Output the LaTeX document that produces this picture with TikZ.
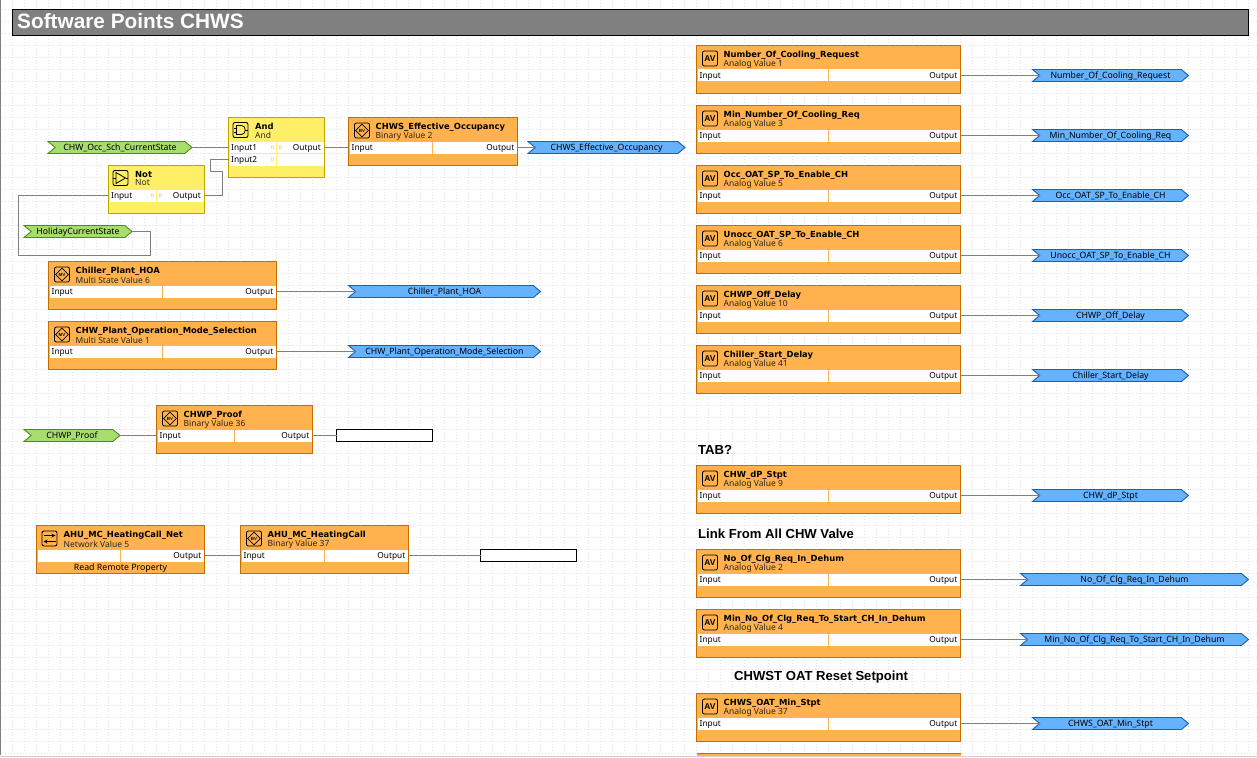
\documentclass[tikz,border=0pt]{standalone}
\usepackage{xcolor}
\usepackage{fontspec}
\setmainfont{Liberation Sans}
\newfontfamily\blockfont{Noto Sans}
\newfontfamily\blockbold{DejaVu Sans}
\usetikzlibrary{shapes.symbols,shapes.geometric}

\definecolor{gridgray}{HTML}{E0E0E0}
\definecolor{wiregray}{HTML}{808080}
\definecolor{valfill}{HTML}{FFB24D}
\definecolor{valline}{HTML}{C46E00}
\definecolor{logfill}{HTML}{FFEF66}
\definecolor{logline}{HTML}{BFA800}
\definecolor{outfill}{HTML}{66B2FF}
\definecolor{outline}{HTML}{1F5FA8}
\definecolor{infill}{HTML}{A8DC6E}
\definecolor{inline}{HTML}{4F8A1E}
\definecolor{zeromark}{HTML}{E6BE30}

\tikzset{
    valbox/.style={draw=valline, fill=valfill, line width=0.9pt, minimum height=48pt, anchor=north west, inner sep=0pt, outer sep=0pt},
    logbox/.style={valbox, draw=logline, fill=logfill},
    rowtext/.style={font=\blockfont\fontsize{8.3}{9}\selectfont, inner sep=0pt, text=black, text height=6pt, text depth=0pt},
    titletext/.style={font=\blockbold\fontsize{8.4}{9}\selectfont\bfseries, inner sep=0pt, anchor=west},
    subtext/.style={font=\blockfont\fontsize{8.5}{9}\selectfont, inner sep=0pt, anchor=west, text=black!85},
    tagout/.style={shape=signal, signal to=east, signal from=west, signal pointer angle=80, draw=outline, fill=outfill, line width=0.9pt, minimum height=12pt, inner sep=0pt, outer sep=0pt, text height=6pt, text depth=0pt, font=\blockfont\fontsize{8.7}{9}\selectfont},
    tagin/.style={tagout, draw=inline, fill=infill},
    sinkbox/.style={draw=black, fill=white, line width=0.8pt, minimum height=12pt, inner sep=0pt, outer sep=0pt},
    wire/.style={draw=wiregray, line width=0.8pt},
    notetext/.style={font=\bfseries\fontsize{13.1}{15}\selectfont, inner sep=0pt, anchor=west},
    iconbox/.style={draw=black, line width=0.9pt, rounded corners=2pt, minimum size=15pt, inner sep=0pt},
    avmark/.style={font=\fontsize{8.5}{9}\selectfont\bfseries, inner sep=0pt},
    bvmark/.style={shape=diamond, draw=black, line width=0.7pt, minimum size=13pt, inner sep=0pt, font=\fontsize{4.5}{5}\selectfont\bfseries},
    zerotext/.style={font=\fontsize{5.5}{6}\selectfont, inner sep=0pt, text=zeromark},
}

% name, x, y, width, divider, title, subtitle, icon style, icon text
\newcommand{\valblock}[9]{
    \node[valbox, minimum width=#4pt] (#1) at (#2,#3) {};
    \fill[white] (#2+1,#3+24) rectangle (#2+#4-1,#3+36);
    \draw[valfill] (#2+#5,#3+24) -- (#2+#5,#3+36);
    \node[titletext] at (#2+27,#3+9.5) {#6};
    \node[subtext] at (#2+27,#3+18.5) {#7};
    \node[iconbox] at (#2+13.5,#3+13) {};
    \node[#8] at (#2+13.5,#3+13) {#9};
    \coordinate (#1-in) at (#2,#3+30);
    \coordinate (#1-out) at (#2+#4,#3+30);
    \node[rowtext, anchor=west] at (#2+3,#3+30) {Input};
    \node[rowtext, anchor=east] at (#2+#4-3,#3+30) {Output};
}

\begin{document}
\begin{tikzpicture}[x=1pt,y=-1pt]
    \useasboundingbox (0,0) rectangle (1257,757);

    % sheet
    \fill[white] (0,0) rectangle (1257,757);
    \foreach \gx in {12,24,...,1256} {
        \draw[gridgray, line width=0.8pt, dash pattern=on 1.2pt off 1.8pt] (\gx,0) -- (\gx,753);
    }
    \foreach \gy in {9,21,...,753} {
        \draw[gridgray, line width=0.8pt, dash pattern=on 1.2pt off 1.8pt] (2,\gy) -- (1257,\gy);
    }
    \fill[wiregray] (0,0) rectangle (1.3,755);
    \fill[black!18] (0,755.5) rectangle (1257,756.8);

    % title
    \node[draw=black, fill=wiregray, line width=0.9pt, anchor=north west, minimum width=1236pt, minimum height=26pt, inner sep=0pt, outer sep=0pt] (title) at (12.5,9.5) {};
    \node[anchor=west, inner sep=0pt, text=white, font=\bfseries\fontsize{20.8}{22}\selectfont] (titletxt) at (17,21.5) {Software Points CHWS};

    % left column
    \valblock{effocc}{348.5}{117.5}{169}{84}{CHWS\_Effective\_Occupancy}{Binary Value 2}{bvmark}{BV}
    \valblock{hoa}{48.5}{261.5}{228}{114}{Chiller\_Plant\_HOA}{Multi State Value 6}{bvmark}{MV}
    \valblock{opmode}{48.5}{321.5}{228}{114}{CHW\_Plant\_Operation\_Mode\_Selection}{Multi State Value 1}{bvmark}{MV}
    \valblock{proof}{156.5}{405.5}{156}{78}{CHWP\_Proof}{Binary Value 36}{bvmark}{BV}
    \valblock{heat}{240.5}{525.5}{168}{84}{AHU\_MC\_HeatingCall}{Binary Value 37}{bvmark}{BV}

    % right column
    \valblock{numreq}{696.5}{45.5}{264}{132}{Number\_Of\_Cooling\_Request}{Analog Value 1}{avmark}{AV}
    \valblock{minreq}{696.5}{105.5}{264}{132}{Min\_Number\_Of\_Cooling\_Req}{Analog Value 3}{avmark}{AV}
    \valblock{occoat}{696.5}{165.5}{264}{132}{Occ\_OAT\_SP\_To\_Enable\_CH}{Analog Value 5}{avmark}{AV}
    \valblock{unoccoat}{696.5}{225.5}{264}{132}{Unocc\_OAT\_SP\_To\_Enable\_CH}{Analog Value 6}{avmark}{AV}
    \valblock{offdelay}{696.5}{285.5}{264}{132}{CHWP\_Off\_Delay}{Analog Value 10}{avmark}{AV}
    \valblock{startdelay}{696.5}{345.5}{264}{132}{Chiller\_Start\_Delay}{Analog Value 41}{avmark}{AV}
    \valblock{dpstpt}{696.5}{465.5}{264}{132}{CHW\_dP\_Stpt}{Analog Value 9}{avmark}{AV}
    \valblock{dehum}{696.5}{549.5}{264}{132}{No\_Of\_Clg\_Req\_In\_Dehum}{Analog Value 2}{avmark}{AV}
    \valblock{mindehum}{696.5}{609.5}{264}{132}{Min\_No\_Of\_Clg\_Req\_To\_Start\_CH\_In\_Dehum}{Analog Value 4}{avmark}{AV}
    \valblock{oatmin}{696.5}{693.5}{264}{132}{CHWS\_OAT\_Min\_Stpt}{Analog Value 37}{avmark}{AV}

    % network value, no input and a footer
    \node[valbox, minimum width=168pt] (net) at (36.5,525.5) {};
    \fill[white] (37.5,549.5) rectangle (203.5,561.5);
    \draw[valfill] (120.5,549.5) -- (120.5,561.5);
    \node[titletext] at (63.5,535) {AHU\_MC\_HeatingCall\_Net};
    \node[subtext] at (63.5,544) {Network Value 5};
    \node[iconbox] at (49.5,538.5) {};
    \draw[black, line width=0.8pt, -stealth] (43.5,535.5) -- (55.5,535.5);
    \draw[black, line width=0.8pt, -stealth] (55.5,541.5) -- (43.5,541.5);
    \node[rowtext, anchor=east] at (201.5,555.5) {Output};
    \node[rowtext, font=\blockfont\fontsize{8.8}{9}\selectfont] at (120.5,567.5) {Read Remote Property};
    \coordinate (net-out) at (204.5,555.5);

    % logic blocks
    \node[logbox, minimum width=96pt, minimum height=60pt] (andgate) at (228.5,117.5) {};
    \fill[white] (229.5,141.5) rectangle (323.5,165.5);
    \draw[logfill] (276.5,141.5) -- (276.5,165.5);
    \draw[logfill] (229.5,153.5) -- (323.5,153.5);
    \node[titletext] at (255,126) {And};
    \node[subtext] at (255,135) {And};
    \node[iconbox] at (240.5,130) {};
    \draw[black, line width=0.8pt] (236.5,125.5) -- (241.5,125.5) .. controls (246.5,125.5) and (246.5,134.5) .. (241.5,134.5) -- (236.5,134.5) -- cycle;
    \draw[black, line width=0.8pt] (233.5,128) -- (236.5,128) (233.5,132) -- (236.5,132) (245,130) -- (248,130);
    \node[rowtext, anchor=west] at (231,147.5) {Input1};
    \node[rowtext, anchor=west] at (231,159.5) {Input2};
    \node[rowtext, anchor=east] at (321,147.5) {Output};
    \node[zerotext] (andzero1) at (272.5,147.5) {0};
    \node[zerotext] (andzero2) at (280.5,147.5) {0};
    \node[zerotext] (andzero3) at (272.5,159.5) {0};
    \coordinate (andgate-in1) at (228.5,147.5);
    \coordinate (andgate-in2) at (228.5,159.5);
    \coordinate (andgate-out) at (324.5,147.5);

    \node[logbox, minimum width=96pt] (notgate) at (108.5,165.5) {};
    \fill[white] (109.5,189.5) rectangle (203.5,201.5);
    \draw[logfill] (156.5,189.5) -- (156.5,201.5);
    \node[titletext] at (135,174) {Not};
    \node[subtext] at (135,183) {Not};
    \node[iconbox] at (120.5,178) {};
    \draw[black, line width=0.8pt] (116,172.5) -- (125.5,178) -- (116,183.5) -- cycle;
    \draw[black, line width=0.8pt] (113,178) -- (116,178) (125.5,178) -- (128,178);
    \node[rowtext, anchor=west] at (111,195.5) {Input};
    \node[rowtext, anchor=east] at (201,195.5) {Output};
    \node[zerotext] (notzero1) at (152.5,195.5) {0};
    \node[zerotext] (notzero2) at (160.5,195.5) {0};
    \coordinate (notgate-in) at (108.5,195.5);
    \coordinate (notgate-out) at (204.5,195.5);

    % tags
    \node[tagin, minimum width=144pt] (occsch) at (120,147.5) {CHW\_Occ\_Sch\_CurrentState};
    \node[tagin, minimum width=108pt] (holiday) at (78,231.5) {HolidayCurrentState};
    \node[tagin, minimum width=96pt] (proofin) at (72,435.5) {CHWP\_Proof};
    \node[tagout, minimum width=157pt] (effout) at (606.5,147.5) {CHWS\_Effective\_Occupancy};
    \node[tagout, minimum width=192pt] (hoaout) at (444.5,291.5) {Chiller\_Plant\_HOA};
    \node[tagout, minimum width=192pt] (opmodeout) at (444.5,351.5) {CHW\_Plant\_Operation\_Mode\_Selection};
    \node[tagout, minimum width=156pt] (numreqout) at (1110.5,75.5) {Number\_Of\_Cooling\_Request};
    \node[tagout, minimum width=156pt] (minreqout) at (1110.5,135.5) {Min\_Number\_Of\_Cooling\_Req};
    \node[tagout, minimum width=156pt] (occoatout) at (1110.5,195.5) {Occ\_OAT\_SP\_To\_Enable\_CH};
    \node[tagout, minimum width=156pt] (unoccoatout) at (1110.5,255.5) {Unocc\_OAT\_SP\_To\_Enable\_CH};
    \node[tagout, minimum width=156pt] (offdelayout) at (1110.5,315.5) {CHWP\_Off\_Delay};
    \node[tagout, minimum width=156pt] (startdelayout) at (1110.5,375.5) {Chiller\_Start\_Delay};
    \node[tagout, minimum width=156pt] (dpstptout) at (1110.5,495.5) {CHW\_dP\_Stpt};
    \node[tagout, minimum width=228pt] (dehumout) at (1134.5,579.5) {No\_Of\_Clg\_Req\_In\_Dehum};
    \node[tagout, minimum width=228pt] (mindehumout) at (1134.5,639.5) {Min\_No\_Of\_Clg\_Req\_To\_Start\_CH\_In\_Dehum};
    \node[tagout, minimum width=156pt] (oatminout) at (1110.5,723.5) {CHWS\_OAT\_Min\_Stpt};
    \node[sinkbox, minimum width=96pt] (proofsink) at (384.5,435.5) {};
    \node[sinkbox, minimum width=96pt] (heatsink) at (528.5,555.5) {};

    % wires
    \draw[wire] (occsch.east) -- (andgate-in1);
    \draw[wire] (andgate-out) -- (effocc-in);
    \draw[wire] (effocc-out) -- (effout.west);
    \draw[wire] (holiday.east) -- ++(18,0) -- ++(0,24) -- ++(-132,0) |- (notgate-in);
    \draw[wire] (notgate-out) -- ++(18,0) -- ++(0,-24) -- ++(-12,0) |- (andgate-in2);
    \draw[wire] (hoa-out) -- (hoaout.west);
    \draw[wire] (opmode-out) -- (opmodeout.west);
    \draw[wire] (proofin.east) -- (proof-in);
    \draw[wire] (proof-out) -- (proofsink.west);
    \draw[wire] (net-out) -- (heat-in);
    \draw[wire] (heat-out) -- (heatsink.west);
    \draw[wire] (numreq-out) -- (numreqout.west);
    \draw[wire] (minreq-out) -- (minreqout.west);
    \draw[wire] (occoat-out) -- (occoatout.west);
    \draw[wire] (unoccoat-out) -- (unoccoatout.west);
    \draw[wire] (offdelay-out) -- (offdelayout.west);
    \draw[wire] (startdelay-out) -- (startdelayout.west);
    \draw[wire] (dpstpt-out) -- (dpstptout.west);
    \draw[wire] (dehum-out) -- (dehumout.west);
    \draw[wire] (mindehum-out) -- (mindehumout.west);
    \draw[wire] (oatmin-out) -- (oatminout.west);

    % clipped block at the sheet edge
    \fill[valfill] (696.5,753.5) rectangle (960.5,755.5);
    \draw[valline, line width=0.9pt] (696.5,753.5) -- (960.5,753.5);

    % notes
    \node[notetext] (tabnote) at (698,449.5) {TAB?};
    \node[notetext] (linknote) at (698,533.5) {Link From All CHW Valve};
    \node[notetext] (oatnote) at (734,677.5) {CHWST OAT Reset Setpoint};
\end{tikzpicture}
\end{document}
